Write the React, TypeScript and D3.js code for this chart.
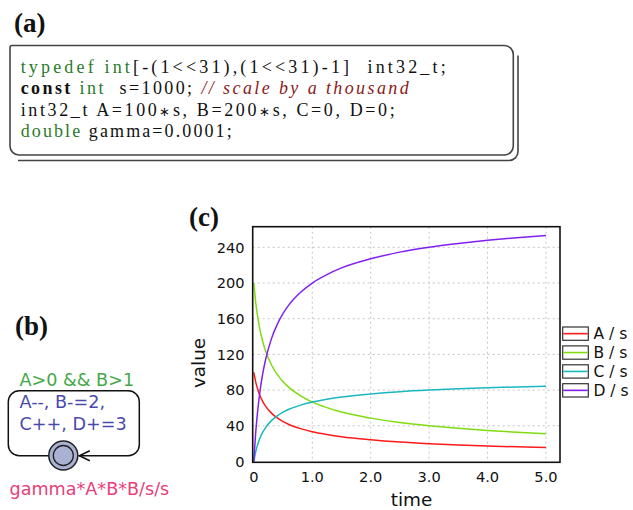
import React from "react";
import * as d3 from "d3";

// ---- chart data ----
const times = [0, 0.01, 0.02, 0.03, 0.05, 0.075, 0.1, 0.15, 0.2, 0.3, 0.4, 0.5, 0.6, 0.8, 1.0, 1.25, 1.5, 2.0, 2.5, 3.0, 3.5, 4.0, 4.5, 5.0];
const seriesA = [100, 96.2, 92.8, 89.6, 84.5, 79.1, 74.5, 67.4, 62.0, 54.2, 48.8, 44.7, 41.5, 36.8, 33.3, 30.2, 27.7, 24.3, 21.8, 20.0, 18.6, 17.4, 16.4, 15.6];
const seriesB = [200, 192.4, 185.6, 179.2, 169.0, 158.2, 149.0, 134.8, 124.0, 108.4, 97.6, 89.4, 83.0, 73.6, 66.6, 60.4, 55.4, 48.6, 43.6, 40.0, 37.2, 34.8, 32.8, 31.2];
const seriesC = [0, 3.8, 7.2, 10.4, 15.5, 20.9, 25.5, 32.6, 38.0, 45.8, 51.2, 55.3, 58.5, 63.2, 66.7, 69.8, 72.3, 75.7, 78.2, 80.0, 81.4, 82.6, 83.6, 84.4];
const seriesD = [0, 11.4, 21.6, 31.2, 46.5, 62.7, 76.5, 97.8, 114.0, 137.4, 153.6, 165.9, 175.5, 189.6, 200.0, 209.4, 216.9, 227.1, 234.6, 240.0, 244.2, 247.8, 250.8, 253.2];
const seriesNames = ["A / s", "B / s", "C / s", "D / s"];
const seriesColors = ["#ff1a1a", "#80dc10", "#18b8bf", "#8020f0"];
const xTicks = [0, 1, 2, 3, 4, 5];
const xTickLabels = ["0", "1.0", "2.0", "3.0", "4.0", "5.0"];
const yTicks = [0, 40, 80, 120, 160, 200, 240];

// ---- code listing (a) ----
const GREEN = "#2a7a2a";
const BLACK = "#111";
const MAROON = "#8b1a1a";
type Seg = { t: string; c: string; b?: boolean; i?: boolean; small?: boolean };
const codeLines: Seg[][] = [
  [{ t: "typedef int", c: GREEN }, { t: "[-(1<<31),(1<<31)-1]  int32_t;", c: BLACK }],
  [{ t: "const", c: BLACK, b: true }, { t: " int", c: GREEN }, { t: "  s=1000; ", c: BLACK }, { t: "// scale by a thousand", c: MAROON, i: true }],
  [
    { t: "int32_t A=100", c: BLACK }, { t: "\u2217", c: BLACK, small: true },
    { t: "s, B=200", c: BLACK }, { t: "\u2217", c: BLACK, small: true },
    { t: "s, C=0, D=0;", c: BLACK },
  ],
  [{ t: "double", c: GREEN }, { t: " gamma=0.0001;", c: BLACK }],
];
const codeLengths = [425, 388, 374, 211];

// ---- automaton (b) ----
const guardText = "A>0 && B>1";
const updateLines = ["A--, B-=2,", "C++, D+=3"];
const rateText = "gamma*A*B*B/s/s";

export default function App() {
  const W = 633, H = 510;
  const plot = { left: 252.7, right: 560, top: 226.7, bottom: 462.3 };
  const x = d3.scaleLinear().domain([-0.02, 5.24]).range([plot.left, plot.right]);
  const y = d3.scaleLinear().domain([-0.9, 263.1]).range([plot.bottom, plot.top]);
  const allSeries = [seriesA, seriesB, seriesC, seriesD];
  const line = d3
    .line<number>()
    .x((_, i) => x(times[i]))
    .y((v) => y(v))
    .curve(d3.curveMonotoneX);

  const sans = "'DejaVu Sans', sans-serif";
  const serif = "'Liberation Serif', 'Times New Roman', serif";

  // loop path for automaton
  const L = 8.3, R = 139.3, T = 390.7, B = 455.7, r = 11;
  const cx = 63.3, cy = 455.5, cr = 14.5;
  const loopPath = `M ${cx - cr} ${B} L ${L + r} ${B} A ${r} ${r} 0 0 1 ${L} ${B - r} L ${L} ${T + r} A ${r} ${r} 0 0 1 ${L + r} ${T} L ${R - r} ${T} A ${r} ${r} 0 0 1 ${R} ${T + r} L ${R} ${B - r} A ${r} ${r} 0 0 1 ${R - r} ${B} L ${cx + cr + 1} ${B}`;

  // code box path
  const bx0 = 10, by0 = 45.5, bx1 = 513.3, by1 = 155, br = 9;
  const boxPath = `M ${bx0} ${by0 + 2} A 2 2 0 0 1 ${bx0 + 2} ${by0} L ${bx1 - br} ${by0} A ${br} ${br} 0 0 1 ${bx1} ${by0 + br} L ${bx1} ${by1 - br} A ${br} ${br} 0 0 1 ${bx1 - br} ${by1} L ${bx0 + br} ${by1} A ${br} ${br} 0 0 1 ${bx0} ${by1 - br} Z`;
  const sx = 518, sy = 160.5;
  const shadowPath = `M ${sx} ${by0 + 10} L ${sx} ${sy - br} A ${br} ${br} 0 0 1 ${sx - br} ${sy} L ${bx0 + 8} ${sy}`;

  const codeBaselines = [72.5, 94.1, 115.7, 137.3];

  return (
    <svg width={W} height={H} style={{ position: "absolute", left: 0, top: 0, background: "#fff" }}>
      <rect width={W} height={H} fill="#fff" />
      {/* (a) */}
      <text x={14} y={32} fontFamily={serif} fontWeight="bold" fontSize={27} fill="#111">(a)</text>
      <path d={shadowPath} fill="none" stroke="#444" strokeWidth={1.6} />
      <path d={boxPath} fill="#fff" stroke="#444" strokeWidth={1.6} />
      {codeLines.map((segs, li) => (
        <text
          key={li}
          x={20.7}
          y={codeBaselines[li]}
          fontFamily={serif}
          fontSize={18}
          textLength={codeLengths[li]}
          lengthAdjust="spacing"
          style={{ whiteSpace: "pre" }}
        >
          {segs.map((s, si) => (
            <tspan
              key={si}
              fill={s.c}
              fontWeight={s.b ? "bold" : "normal"}
              fontStyle={s.i ? "italic" : "normal"}
              fontSize={s.small ? 13 : undefined}
            >
              {s.t}
            </tspan>
          ))}
        </text>
      ))}

      {/* (b) */}
      <text x={15} y={335} fontFamily={serif} fontWeight="bold" fontSize={27} fill="#111">(b)</text>
      <text x={19.5} y={386} fontFamily={sans} fontSize={17.6} fill="#45a848">{guardText}</text>
      {updateLines.map((t, i) => (
        <text key={i} x={19.5} y={407.5 + i * 22} fontFamily={sans} fontSize={17.6} fill="#4a4aae">{t}</text>
      ))}
      <path d={loopPath} fill="none" stroke="#111" strokeWidth={1.5} />
      <path d={`M ${cx + cr + 12} ${B - 5} L ${cx + cr + 1.5} ${B} L ${cx + cr + 12} ${B + 5}`} fill="none" stroke="#111" strokeWidth={1.5} />
      <circle cx={cx} cy={cy} r={cr} fill="#a9b2d2" stroke="#222" strokeWidth={1.5} />
      <circle cx={cx} cy={cy} r={10} fill="#a9b2d2" stroke="#222" strokeWidth={1.3} />
      <text x={9.5} y={495} fontFamily={sans} fontSize={17.6} fill="#e8407a">{rateText}</text>

      {/* (c) */}
      <text x={189} y={226} fontFamily={serif} fontWeight="bold" fontSize={27} fill="#111">(c)</text>
      {/* grid */}
      {xTicks.filter((t) => t > 0).map((t) => (
        <line key={"gx" + t} x1={x(t)} x2={x(t)} y1={plot.top} y2={plot.bottom} stroke="#c4c4c4" strokeWidth={1} strokeDasharray="2,3" />
      ))}
      {yTicks.filter((t) => t > 0).map((t) => (
        <line key={"gy" + t} x1={plot.left} x2={plot.right} y1={y(t)} y2={y(t)} stroke="#c4c4c4" strokeWidth={1} strokeDasharray="2,3" />
      ))}
      {/* series */}
      {allSeries.map((s, i) => (
        <path key={i} d={line(s) || ""} fill="none" stroke={seriesColors[i]} strokeWidth={1.5} />
      ))}
      <rect x={plot.left} y={plot.top} width={plot.right - plot.left} height={plot.bottom - plot.top} fill="none" stroke="#111" strokeWidth={1.6} />
      {/* ticks */}
      {xTicks.map((t, i) => (
        <text key={"xt" + t} x={x(t)} y={482} textAnchor="middle" fontFamily={sans} fontSize={14.6} fill="#111">{xTickLabels[i]}</text>
      ))}
      {yTicks.map((t) => (
        <text key={"yt" + t} x={244.5} y={y(t)} dy="0.36em" textAnchor="end" fontFamily={sans} fontSize={14.6} fill="#111">{t}</text>
      ))}
      <text x={411.5} y={506} textAnchor="middle" fontFamily={sans} fontSize={18.4} fill="#111">time</text>
      <text transform={`translate(205,363) rotate(-90)`} textAnchor="middle" fontFamily={sans} fontSize={18.4} fill="#111">value</text>
      {/* legend */}
      {seriesNames.map((n, i) => {
        const top = 327 + i * 18.9;
        return (
          <g key={n}>
            <rect x={562.7} y={top} width={25.6} height={13.3} fill="#fff" stroke="#333" strokeWidth={1.2} />
            <line x1={563.3} x2={587.7} y1={top + 6.65} y2={top + 6.65} stroke={seriesColors[i]} strokeWidth={1.6} />
            <text x={593.5} y={top + 6.65} dy="0.36em" fontFamily={sans} fontSize={15.5} fill="#111">{n}</text>
          </g>
        );
      })}
    </svg>
  );
}
